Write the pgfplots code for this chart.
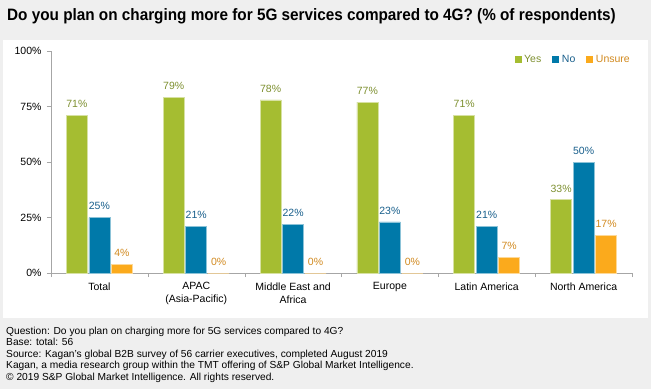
\documentclass[border=0pt]{standalone}
\usepackage{pgfplots}
\pgfplotsset{compat=1.18}
\usepackage{fontspec}
\setmainfont{Liberation Sans}
\definecolor{bg}{HTML}{EFEFEF}
\definecolor{cyes}{HTML}{A5BD31}
\definecolor{cno}{HTML}{0079A9}
\definecolor{cun}{HTML}{FBAA1C}
\definecolor{lyes}{HTML}{7E9030}
\definecolor{lno}{HTML}{185F8C}
\definecolor{lun}{HTML}{D28A1F}
\definecolor{axc}{HTML}{A6A6A6}
\begin{document}
\begin{tikzpicture}[x=1pt,y=1pt]
\path[use as bounding box, fill=bg] (0,0) rectangle (651,389);
\fill[white] (3,71) rectangle (648,349);
\node[anchor=base west, inner sep=0, font=\fontsize{16.5}{18}\selectfont\bfseries] at (7,368) {\scalebox{0.927}[1]{Do you plan on charging more for 5G services compared to 4G? (\% of respondents)}};
\begin{scope}[every node/.style={anchor=base west, inner sep=0, font=\fontsize{10.2}{12}\selectfont}]
\node at (6,55) {Question: Do you plan on charging more for 5G services compared to 4G?};
\node at (6,43.4) {Base: total: 56};
\node at (6,31.8) {Source: Kagan's global B2B survey of 56 carrier executives, completed August 2019};
\node at (6,20.2) {Kagan, a media research group within the TMT offering of S\&P Global Market Intelligence.};
\node at (6,8.6) {© 2019 S\&P Global Market Intelligence. All rights reserved.};
\end{scope}
\begin{axis}[
  at={(51pt,116pt)}, anchor=south west,
  scale only axis, width=581pt, height=222pt,
  xmin=-0.5, xmax=5.5, ymin=0, ymax=100,
  ybar, bar width=21pt,
  axis x line=bottom, axis y line=left,
  axis line style={draw=axc, -},
  tick align=outside,
  xtick={0,1,2,3,4,5},
  xticklabels={Total,{APAC\\(Asia-Pacific)},{Middle East and\\Africa},Europe,Latin America,North America},
  major x tick style={draw=none},
  minor xtick={-0.5,0.5,1.5,2.5,3.5,4.5,5.5},
  minor tick length=4pt,
  minor x tick style={draw=axc},
  ytick={0,25,50,75,100},
  yticklabel={\pgfmathprintnumber{\tick}\%},
  major tick length=4pt,
  y tick style={draw=axc},
  tick label style={font=\fontsize{10.5}{13}\selectfont},
  yticklabel style={xshift=-2pt},
  xticklabel style={align=center, yshift=-2pt},
  /pgf/number format/assume math mode=true,
  legend style={at={(1,1)}, anchor=north east, draw=none, fill=none, legend columns=3,
    font=\fontsize{10.5}{12}\selectfont, inner sep=0pt, yshift=-2pt,
    /tikz/every odd column/.append style={column sep=1pt},
    /tikz/every even column/.append style={column sep=9pt}},
  nodes near coords={\pgfmathprintnumber{\pgfplotspointmeta}\%},
  every node near coord/.append style={font=\fontsize{10.5}{12}\selectfont, anchor=south, yshift=4pt},
]
\addplot[bar shift=-22.5pt, fill=cyes, draw=cyes!45!white, line width=0.6pt,
  every node near coord/.append style={text=lyes},
  legend image code/.code={\fill[cyes] (0pt,-3pt) rectangle (6pt,3pt);}]
  coordinates {(0,71) (1,79) (2,78) (3,77) (4,71) (5,33)};
\addlegendentry{\textcolor{lyes}{Yes}}
\addplot[bar shift=0pt, fill=cno, draw=cno!45!white, line width=0.6pt,
  every node near coord/.append style={text=lno},
  legend image code/.code={\fill[cno] (0pt,-3pt) rectangle (6pt,3pt);}]
  coordinates {(0,25) (1,21) (2,22) (3,23) (4,21) (5,50)};
\addlegendentry{\textcolor{lno}{No}}
\addplot[bar shift=22.5pt, fill=cun, draw=cun!45!white, line width=0.6pt,
  every node near coord/.append style={text=lun},
  legend image code/.code={\fill[cun] (0pt,-3pt) rectangle (6pt,3pt);}]
  coordinates {(0,4) (1,0) (2,0) (3,0) (4,7) (5,17)};
\addlegendentry{\textcolor{lun}{Unsure}}
\end{axis}
\end{tikzpicture}
\end{document}
